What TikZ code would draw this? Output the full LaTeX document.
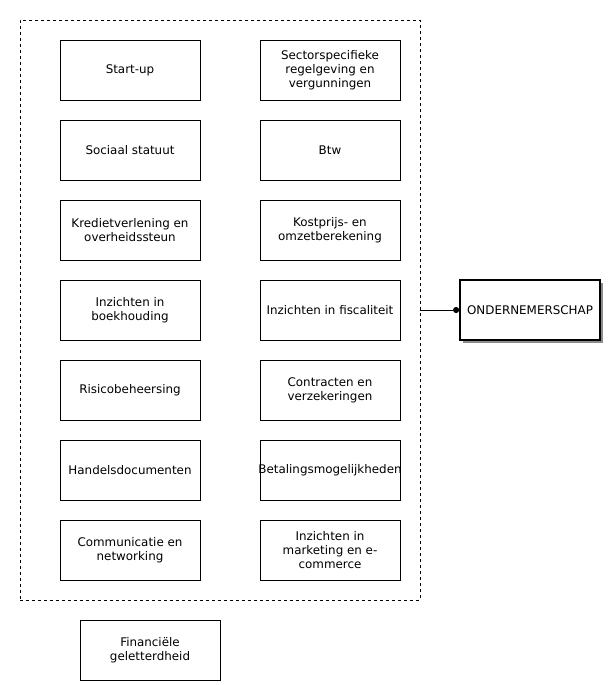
\documentclass[tikz,border=0pt]{standalone}
\usepackage{fontspec}
\setmainfont{DejaVu Sans}
\usetikzlibrary{positioning, arrows.meta, shadows}

\begin{document}
\begin{tikzpicture}[x=1pt, y=-1pt,
  topic/.style={draw, line width=0.8pt, minimum width=140pt, minimum height=60pt, align=center, inner sep=1pt, font=\fontsize{11.9}{14}\selectfont},
  theme/.style={topic, line width=1.8pt, drop shadow={shadow xshift=3pt, shadow yshift=-3pt, fill=black!45, opacity=1}, fill=white}]
\useasboundingbox (0,0) rectangle (608,685);

\node[draw, dashed, dash pattern=on 3pt off 3pt, line width=0.7pt, minimum width=400pt, minimum height=580pt, inner sep=0pt] (frame) at (220, 310) {};

\node[topic] (startup) at (130, 70) {Start-up};
\node[topic] (sociaal) at (130, 150) {Sociaal statuut};
\node[topic] (krediet) at (130, 230) {Kredietverlening en\\overheidssteun};
\node[topic] (boekh) at (130, 310) {Inzichten in\\boekhouding};
\node[topic] (risico) at (130, 390) {Risicobeheersing};
\node[topic] (handel) at (130, 470) {Handelsdocumenten};
\node[topic] (comm) at (130, 550) {Communicatie en\\networking};

\node[topic] (sector) at (330, 70) {Sectorspecifieke\\regelgeving en\\vergunningen};
\node[topic] (btw) at (330, 150) {Btw};
\node[topic] (kost) at (330, 230) {Kostprijs- en\\omzetberekening};
\node[topic] (fisc) at (330, 310) {Inzichten in fiscaliteit};
\node[topic] (contract) at (330, 390) {Contracten en\\verzekeringen};
\node[topic] (betaling) at (330, 470) {\makebox[120pt]{Betalingsmogelijkheden}};
\node[topic] (marketing) at (330, 550) {Inzichten in\\marketing en e-\\commerce};

\node[topic] (financ) at (150, 650) {Financiële\\geletterdheid};

\node[theme] (onderneming) at (530, 310) {ONDERNEMERSCHAP};

\draw[-{Circle[length=6pt]}, line width=0.7pt] (frame.east) -- (onderneming.west);
\end{tikzpicture}
\end{document}
